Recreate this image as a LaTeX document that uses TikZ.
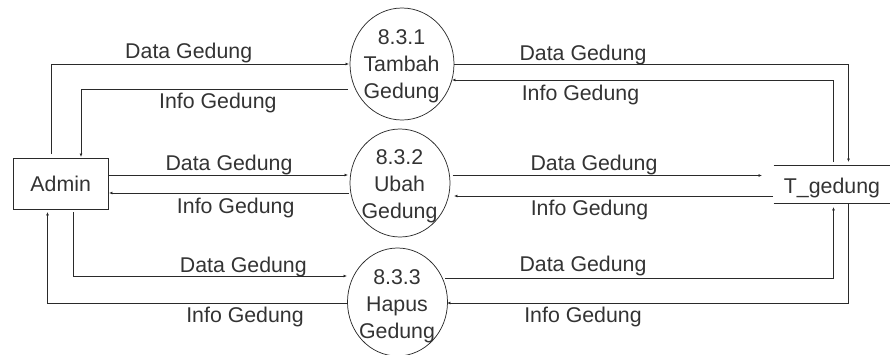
\documentclass[tikz,border=0pt]{standalone}
\usepackage{fontspec}
\setmainfont{Liberation Sans}
\usetikzlibrary{arrows.meta,shapes.geometric}
\definecolor{ink}{HTML}{333333}
\definecolor{wire}{HTML}{2A2A2A}
\tikzset{
  x=.75pt,y=-.75pt,
  lbl/.style={anchor=base,inner sep=0pt,text=ink,font=\fontsize{16}{20.25}\selectfont},
  proc/.style={ellipse,draw=wire,line width=.55pt,inner sep=0pt,outer sep=0pt},
  ptext/.style={inner sep=0pt,text=ink,align=center,font=\fontsize{16}{20.25}\selectfont},
  ent/.style={rectangle,draw=wire,line width=.6pt,inner sep=0pt,text=ink,font=\fontsize{16}{20.25}\selectfont,minimum width=70.9pt,minimum height=38.2pt},
  store/.style={rectangle,inner sep=0pt,text=ink,font=\fontsize{16}{20.25}\selectfont,minimum width=87pt,minimum height=27.75pt,text height=17.5pt,text depth=3.4pt},
  flow/.style={draw=wire,line width=.6pt,-{Latex[length=2.6pt,width=2.2pt]}},
}
\begin{document}
\begin{tikzpicture}
\useasboundingbox (0,0) rectangle (890,354);
\clip (0,0) rectangle (890,354);
% nodes
\node[ent] (admin) at (60.7,183.5) {Admin};
\node[proc,minimum width=78pt,minimum height=84pt] (p1) at (402,64) {};
\node[proc,minimum width=75pt,minimum height=81pt] (p2) at (400,183) {};
\node[proc,minimum width=75pt,minimum height=81pt] (p3) at (397.5,302) {};
\node[ptext] (t1) at (401.5,66.3) {8.3.1\\Tambah\\Gedung};
\node[ptext] (t2) at (399.5,186) {8.3.2\\Ubah\\Gedung};
\node[ptext] (t3) at (397,305.9) {8.3.3\\Hapus\\Gedung};
\node[store] (tg) at (832,184.5) {T\_gedung};
\draw[draw=wire,line width=.6pt] (tg.north west) -- (tg.north east);
\draw[draw=wire,line width=.6pt] (tg.south west) -- (tg.south east);
% connector ends
\coordinate (a1) at (51,154);   \coordinate (a1k) at (51,64);    \coordinate (b1) at (349,64);
\coordinate (a2) at (348,89);   \coordinate (a2k) at (81,89);    \coordinate (b2) at (81,157);
\coordinate (a3) at (108.5,175);\coordinate (b3) at (348,175);
\coordinate (a4) at (349,193);  \coordinate (b4) at (109,193);
\coordinate (a5) at (73.5,212); \coordinate (a5k) at (73.5,276); \coordinate (b5) at (347,276);
\coordinate (a6) at (347,303);  \coordinate (a6k) at (47.5,303); \coordinate (b6) at (47.5,212);
\coordinate (r1) at (454,64);   \coordinate (r1k) at (848.5,64); \coordinate (s1) at (848.5,162);
\coordinate (r2) at (833.5,162);\coordinate (r2k) at (833.5,80); \coordinate (s2) at (452,80);
\coordinate (r3) at (452.5,175.5);\coordinate (s3) at (762,175.5);
\coordinate (r4) at (773,196);  \coordinate (s4) at (454,196);
\coordinate (r5) at (445,278);  \coordinate (r5k) at (833.5,278);\coordinate (s5) at (833.5,207);
\coordinate (r6) at (848.5,203);\coordinate (r6k) at (848.5,303);\coordinate (s6) at (447,303);
% connectors
\draw[flow] (a1) -- (a1k) -- (b1);
\draw[flow] (a2) -- (a2k) -- (b2);
\draw[flow] (a3) -- (b3);
\draw[flow] (a4) -- (b4);
\draw[flow] (a5) -- (a5k) -- (b5);
\draw[flow] (a6) -- (a6k) -- (b6);
\draw[flow] (r1) -- (r1k) -- (s1);
\draw[flow] (r2) -- (r2k) -- (s2);
\draw[flow] (r3) -- (s3);
\draw[flow] (r4) -- (s4);
\draw[flow] (r5) -- (r5k) -- (s5);
\draw[flow] (r6) -- (r6k) -- (s6);
% labels
\node[lbl] (l1) at (188.7,58.7) {Data Gedung};
\node[lbl] (l2) at (217.8,108.7) {Info Gedung};
\node[lbl] (l3) at (229,170.7) {Data Gedung};
\node[lbl] (l4) at (235.7,213.3) {Info Gedung};
\node[lbl] (l5) at (243.3,272.7) {Data Gedung};
\node[lbl] (l6) at (245,322.7) {Info Gedung};
\node[lbl] (l7) at (583,60) {Data Gedung};
\node[lbl] (l8) at (580.5,100.7) {Info Gedung};
\node[lbl] (l9) at (594,170.7) {Data Gedung};
\node[lbl] (l10) at (589.5,215) {Info Gedung};
\node[lbl] (l11) at (583,271.7) {Data Gedung};
\node[lbl] (l12) at (583,322.7) {Info Gedung};
\end{tikzpicture}
\end{document}
